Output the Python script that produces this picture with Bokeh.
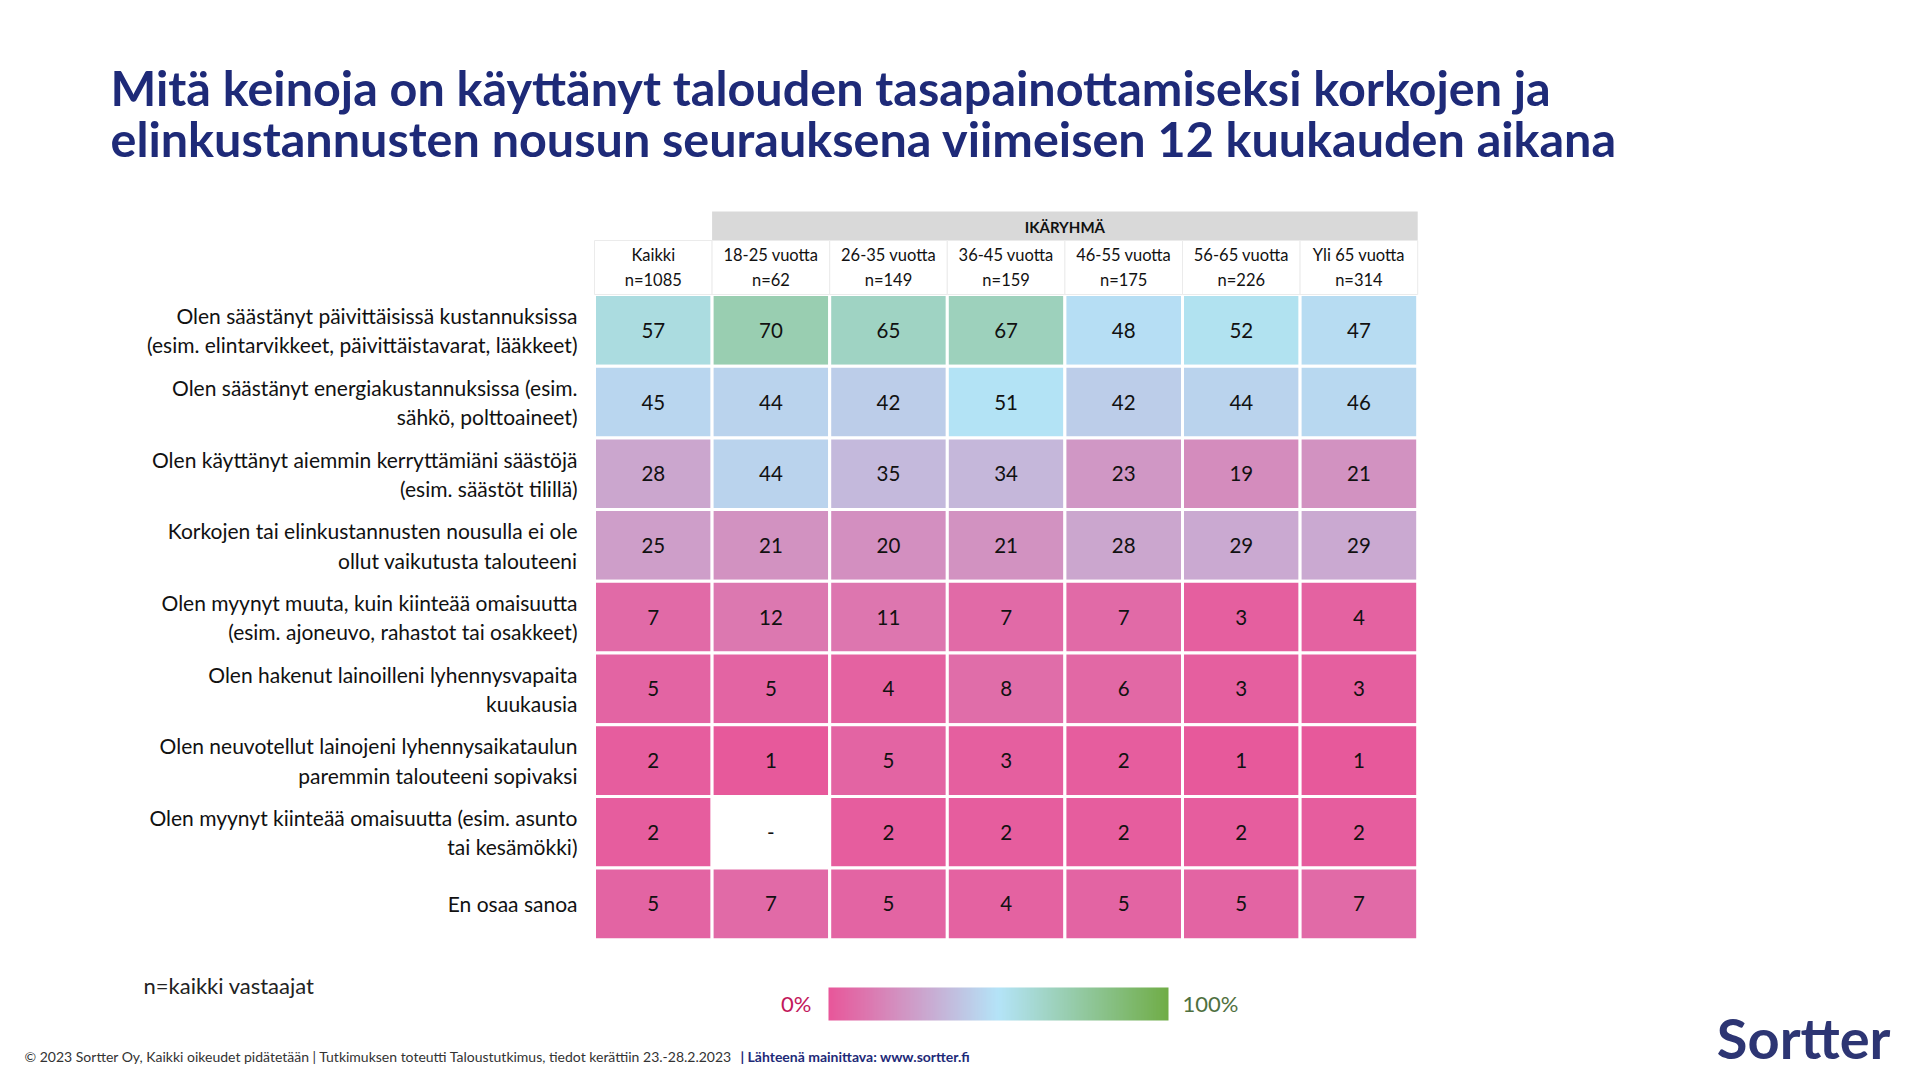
import numpy as np
from bokeh.plotting import figure
from bokeh.models import ColumnDataSource, LinearColorMapper, ColorBar, Label, Range1d, FixedTicker
from bokeh.embed import file_html
from bokeh.resources import INLINE
from bokeh.core.properties import value

# ---------------- data ----------------
title_lines = [
    "Mitä keinoja on käyttänyt talouden tasapainottamiseksi korkojen ja",
    "elinkustannusten nousun seurauksena viimeisen 12 kuukauden aikana",
]
group_header = "IKÄRYHMÄ"
columns = ["Kaikki", "18-25 vuotta", "26-35 vuotta", "36-45 vuotta",
           "46-55 vuotta", "56-65 vuotta", "Yli 65 vuotta"]
column_n = [1085, 62, 149, 159, 175, 226, 314]
statements = [
    "Olen säästänyt päivittäisissä kustannuksissa\n(esim. elintarvikkeet, päivittäistavarat, lääkkeet)",
    "Olen säästänyt energiakustannuksissa (esim.\nsähkö, polttoaineet)",
    "Olen käyttänyt aiemmin kerryttämiäni säästöjä\n(esim. säästöt tilillä)",
    "Korkojen tai elinkustannusten nousulla ei ole\nollut vaikutusta talouteeni",
    "Olen myynyt muuta, kuin kiinteää omaisuutta\n(esim. ajoneuvo, rahastot tai osakkeet)",
    "Olen hakenut lainoilleni lyhennysvapaita\nkuukausia",
    "Olen neuvotellut lainojeni lyhennysaikataulun\nparemmin talouteeni sopivaksi",
    "Olen myynyt kiinteää omaisuutta (esim. asunto\ntai kesämökki)",
    "En osaa sanoa",
]
kaikki      = [57, 45, 28, 25, 7, 5, 2, 2, 5]
age_18_25   = [70, 44, 44, 21, 12, 5, 1, None, 7]
age_26_35   = [65, 42, 35, 20, 11, 4, 5, 2, 5]
age_36_45   = [67, 51, 34, 21, 7, 8, 3, 2, 4]
age_46_55   = [48, 42, 23, 28, 7, 6, 2, 2, 5]
age_56_65   = [52, 44, 19, 29, 3, 3, 1, 2, 5]
age_65_plus = [47, 46, 21, 29, 4, 3, 1, 2, 7]
series = [kaikki, age_18_25, age_26_35, age_36_45, age_46_55, age_56_65, age_65_plus]

note_text = "n=kaikki vastaajat"
footer_text = ("© 2023 Sortter Oy, Kaikki oikeudet pidätetään | Tutkimuksen toteutti "
               "Taloustutkimus, tiedot kerättiin 23.-28.2.2023")
footer_bold = "| Lähteenä mainittava: www.sortter.fi"
logo_text = "Sortter"

# ---------------- colour scale ----------------
stops = [(0.0, (0xE8, 0x57, 0x9A)), (0.5, (0xB4, 0xE4, 0xF8)), (1.0, (0x70, 0xAD, 0x47))]
palette = []
for t in np.linspace(0, 1, 256):
    for (t0, c0), (t1, c1) in zip(stops[:-1], stops[1:]):
        if t0 <= t <= t1:
            f = (t - t0) / (t1 - t0)
            rgb = [int(round(a + (b - a) * f)) for a, b in zip(c0, c1)]
            palette.append("#%02x%02x%02x" % tuple(rgb))
            break
mapper = LinearColorMapper(palette=palette, low=0, high=100, nan_color="white")

# ---------------- layout geometry (canvas px) ----------------
W, H = 1904, 1072
TX, TY = 594.0, 294.0      # table top-left on canvas
CW, RH = 117.6, 71.7       # cell width / height

p = figure(width=W, height=H, output_backend="svg", toolbar_location=None,
           x_range=Range1d(-TX / CW, (W - TX) / CW),
           y_range=Range1d((H - TY) / RH, -TY / RH),
           min_border=0)
p.axis.visible = False
p.grid.visible = False
p.outline_line_color = None
p.background_fill_color = "white"

FONT = value("Lato")

# cells
xs, ys, vals, labels = [], [], [], []
for j, col in enumerate(series):
    for i, v in enumerate(col):
        xs.append(j + 0.5)
        ys.append(i + 0.5)
        vals.append(np.nan if v is None else float(v))
        labels.append("-" if v is None else str(v))
src = ColumnDataSource(dict(x=xs, y=ys, val=vals, label=labels))
p.rect(x="x", y="y", width=1, height=1, source=src,
       fill_color={"field": "val", "transform": mapper},
       line_color="white", line_width=3)
p.text(x="x", y="y", text="label", source=src, text_align="center",
       text_baseline="middle", text_font=FONT, text_font_size="20.5px",
       text_color="#111111")

# row labels
p.text(x=[-17 / CW] * len(statements), y=[i + 0.5 for i in range(len(statements))],
       text=statements, text_align="right", text_baseline="middle",
       text_font=FONT, text_font_size="21px", text_line_height=1.17,
       text_color="#111111")

# group band
band_top, band_bot = (211 - TY) / RH, (240 - TY) / RH
n_age = len(columns) - 1
p.rect(x=[1 + n_age / 2], y=[(band_top + band_bot) / 2], width=[n_age],
       height=[band_bot - band_top], fill_color="#d9d9d9", line_color=None)
p.text(x=[1 + n_age / 2], y=[(band_top + band_bot) / 2 + 0.02], text=[group_header],
       text_align="center", text_baseline="middle", text_font=FONT,
       text_font_size="15px", text_font_style="bold", text_color="#111111")

# column headers
hdr_c = (band_bot + 0) / 2
p.rect(x=[j + 0.5 for j in range(len(columns))], y=[hdr_c] * len(columns),
       width=1, height=[-band_bot] * len(columns), fill_color="white",
       line_color="#ebebeb", line_width=1)
p.text(x=[j + 0.5 for j in range(len(columns))], y=[hdr_c] * len(columns),
       text=[f"{c}\nn={n}" for c, n in zip(columns, column_n)],
       text_align="center", text_baseline="middle", text_font=FONT,
       text_font_size="16.5px", text_line_height=1.24, text_color="#111111")

# title
for k, line in enumerate(title_lines):
    p.add_layout(Label(x=110, y=H - (86 + 51.5 * k), x_units="screen", y_units="screen",
                       text=line, text_font="Lato", text_font_style="bold",
                       text_font_size="48.5px", text_color="#1e2a78",
                       text_baseline="middle"))

# note
p.add_layout(Label(x=143, y=H - 985, x_units="screen", y_units="screen", text=note_text,
                   text_font="Lato", text_font_size="22px", text_color="#222222",
                   text_baseline="middle"))

# colour legend
cb = ColorBar(color_mapper=mapper, orientation="horizontal", width=340, height=33,
              location=(828, H - 1020), padding=0, margin=0,
              ticker=FixedTicker(ticks=[]), major_tick_line_color=None,
              minor_tick_line_color=None, bar_line_color=None,
              border_line_color=None, background_fill_alpha=0)
p.add_layout(cb)
p.add_layout(Label(x=811, y=H - 1003, x_units="screen", y_units="screen", text="0%",
                   text_font="Lato", text_font_size="22px", text_color="#c2185b",
                   text_align="right", text_baseline="middle"))
p.add_layout(Label(x=1182, y=H - 1003, x_units="screen", y_units="screen", text="100%",
                   text_font="Lato", text_font_size="22px", text_color="#4f7040",
                   text_align="left", text_baseline="middle"))

# footer
p.add_layout(Label(x=24, y=H - 1056, x_units="screen", y_units="screen", text=footer_text,
                   text_font="Lato", text_font_size="14px", text_color="#333333",
                   text_baseline="middle"))
p.add_layout(Label(x=740, y=H - 1056, x_units="screen", y_units="screen", text=footer_bold,
                   text_font="Lato", text_font_size="14px", text_font_style="bold",
                   text_color="#1e2a78", text_baseline="middle"))

# logo
p.add_layout(Label(x=1890, y=H - 1037, x_units="screen", y_units="screen", text=logo_text,
                   text_font="Lato", text_font_size="56px", text_font_style="bold",
                   text_color="#2d3573", text_align="right", text_baseline="middle"))

open("out.html", "w").write(file_html(p, INLINE))
